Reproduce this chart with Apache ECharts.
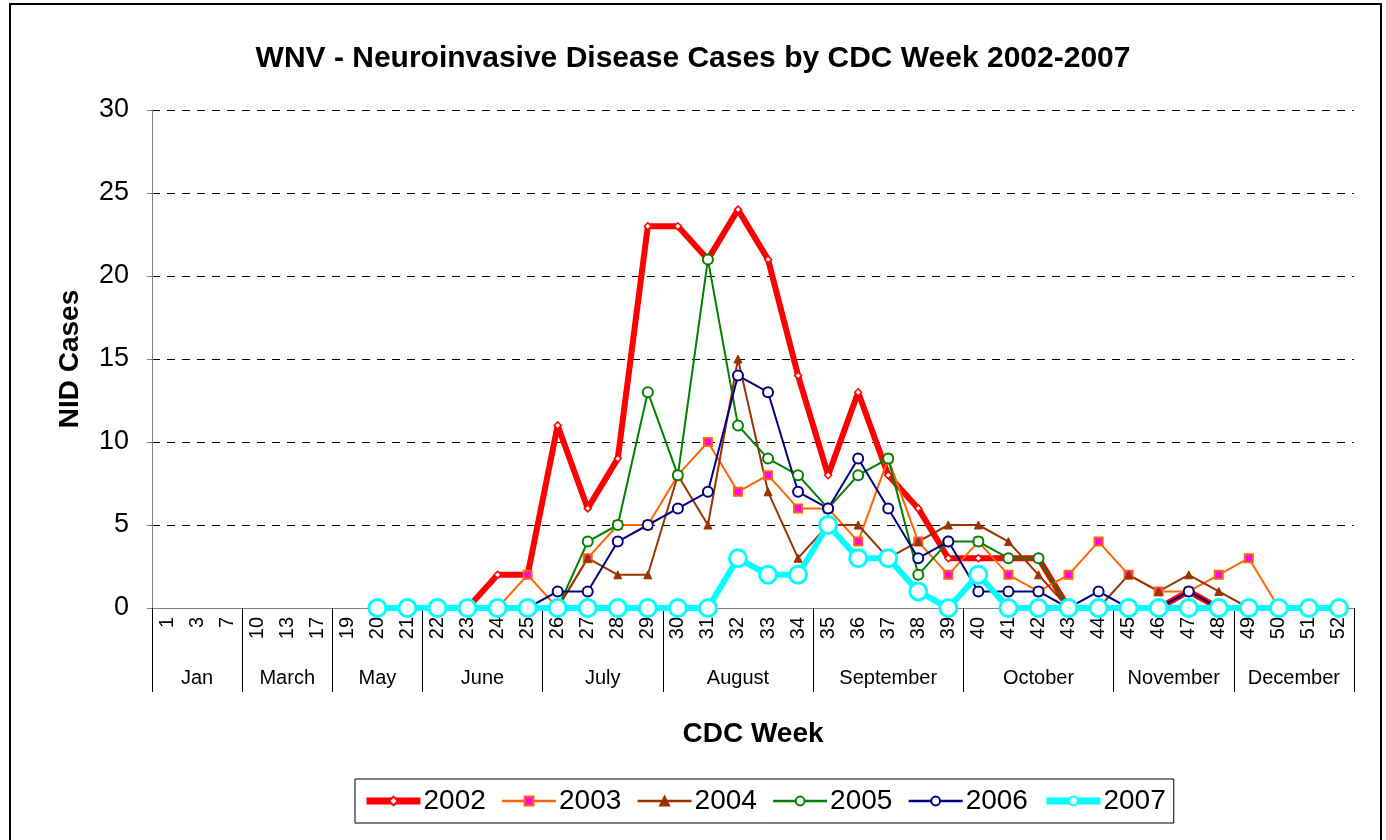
<html lang="en">
<head>
	<meta charset="UTF-8">
	<script src="https://cdn.jsdelivr.net/npm/echarts@6/dist/echarts.min.js"></script>
	<title>WNV NID cases</title>
</head>
<body style="margin:0;background:#fff">
<div id="pic" style="width:1386px;height:840px"></div>
<script>
	"use strict";

	// CDC weeks shown on the axis
	const weeks=[1,3,7,10,13,17,19,20,21,22,23,24,25,26,27,28,29,30,31,32,33,34,35,36,37,38,39,40,41,42,43,44,45,46,47,48,49,50,51,52];
	const months=["Jan","March","May","June","July","August","September","October","November","December"];
	const monthSpan=[3,3,3,4,4,5,5,5,4,4];

	const _=null;
	const y2002=[_,_,_,_,_,_,_,_,_,_,0,2,2,11,6,9,23,23,21,24,21,14,8,13,8,6,3,3,3,3,0,0,0,0,1,0,_,_,_,_];
	const y2003=[_,_,_,_,_,_,_,_,_,_,_,0,2,0,3,5,5,8,10,7,8,6,6,4,9,4,2,4,2,1,2,4,2,1,1,2,3,0,_,_];
	const y2004=[_,_,_,_,_,_,_,_,_,_,_,_,_,0,3,2,2,8,5,15,7,3,5,5,3,4,5,5,4,2,0,0,2,1,2,1,0,_,_,_];
	const y2005=[_,_,_,_,_,_,_,_,_,_,_,_,_,0,4,5,13,8,21,11,9,8,6,8,9,2,4,4,3,3,0,_,_,_,_,_,_,_,_,_];
	const y2006=[_,_,_,_,_,_,_,_,_,_,_,_,0,1,1,4,5,6,7,14,13,7,6,9,6,3,4,1,1,1,0,1,0,0,1,0,_,_,_,_];
	const y2007=[_,_,_,_,_,_,_,0,0,0,0,0,0,0,0,0,0,0,0,3,2,2,5,3,3,1,0,2,0,0,0,0,0,0,0,0,0,0,0,0];

	const font="Liberation Sans, Arial, sans-serif";

	// month row: 2 half slots per week, labels in the middle of each group
	let edge={},mid={},s=0;
	edge[0]=true;
	for(let i=0; i<months.length; i++)
	{
		mid[2*s+monthSpan[i]]=months[i];
		s+=monthSpan[i];
		edge[2*s]=true;
	}
	let slots=[];
	for(let i=0; i<=2*s; i++)
	{slots.push(String(i));}

	function line(name,data,color,width,symbol,size,fill,border,bw)
	{
		return {
			name:name,type:"line",data:data,xAxisIndex:0,
			symbol:symbol,symbolSize:size,showSymbol:true,
			lineStyle:{color:color,width:width},
			itemStyle:{color:fill,borderColor:border,borderWidth:bw},
			emphasis:{disabled:true}
		};
	}

	let pic=echarts.init(document.getElementById("pic"));
	let option=
		{
			animation:false,
			backgroundColor:"#fff",
			textStyle:{fontFamily:font},
			title:{
				text:"WNV - Neuroinvasive Disease Cases by CDC Week 2002-2007",
				left:"center",top:39,
				textStyle:{fontFamily:font,fontSize:30,fontWeight:"bold",color:"#000"}
			},
			graphic:[{
				type:"rect",shape:{x:10,y:4,width:1371,height:850},
				style:{fill:null,stroke:"#000",lineWidth:2},silent:true
			}],
			legend:{
				left:355,top:779,
				padding:[8,8,8,8],
				itemWidth:54,itemHeight:11,itemGap:15,
				borderColor:"#000",borderWidth:1,
				textStyle:{fontFamily:font,fontSize:28,color:"#000",padding:[0,0,0,-2]},
				data:[
					{name:"2002",lineStyle:{width:7}},
					{name:"2003",lineStyle:{width:2.5}},
					{name:"2004",lineStyle:{width:2.5}},
					{name:"2005",lineStyle:{width:2.5}},
					{name:"2006",lineStyle:{width:2.5}},
					{name:"2007",lineStyle:{width:7}}
				]
			},
			grid:{left:152,right:32,top:110,bottom:232},
			xAxis:[
				{
					type:"category",data:weeks.map(String),position:"bottom",
					name:"CDC Week",nameLocation:"middle",nameGap:112,
					nameTextStyle:{fontFamily:font,fontSize:28,fontWeight:"bold",color:"#000"},
					axisLine:{lineStyle:{color:"#808080",width:1}},
					axisTick:{length:5,lineStyle:{color:"#000"}},
					axisLabel:{rotate:90,fontSize:20,color:"#000",margin:9,interval:0},
					splitLine:{show:false}
				},
				{
					type:"category",data:slots,position:"bottom",offset:0,boundaryGap:false,
					axisLine:{show:false},
					axisTick:{show:true,length:84,interval:(i)=>edge[i]===true,lineStyle:{color:"#000"}},
					axisLabel:{
						interval:(i)=>mid[i]!==undefined,
						formatter:(v)=>mid[parseInt(v)]||"",
						fontSize:20,color:"#000",margin:60
					},
					splitLine:{show:false}
				}
			],
			yAxis:{
				type:"value",min:0,max:30,interval:5,
				name:"NID Cases",nameLocation:"middle",nameGap:68,
				nameTextStyle:{fontFamily:font,fontSize:28,fontWeight:"bold",color:"#000"},
				axisLine:{show:true,lineStyle:{color:"#808080"}},
				axisTick:{show:true,length:5,lineStyle:{color:"#808080"}},
				axisLabel:{fontSize:27,color:"#000",margin:23},
				splitLine:{show:true,lineStyle:{color:"#000",type:[8,7],width:1}}
			},
			series:[
				line("2002",y2002,"#ff0000",6,"diamond",7,"#fff","#ff0000",1.5),
				line("2003",y2003,"#ff6600",2,"rect",8,"#ff00ff","#ff6600",2),
				line("2004",y2004,"#993300",2,"triangle",8,"#993300","#993300",1),
				line("2005",y2005,"#008000",2,"circle",10,"#fff","#008000",2),
				line("2006",y2006,"#000080",2,"circle",10,"#fff","#000080",2),
				line("2007",y2007,"#00ffff",6,"circle",17,"#fff","#00ffff",3)
			]
		};
	pic.setOption(option);
</script>
</body>
</html>
